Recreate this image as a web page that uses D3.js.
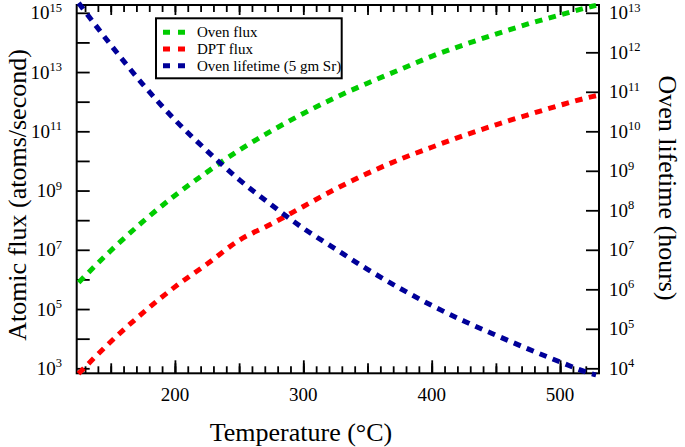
<!DOCTYPE html>
<html>
<head>
<meta charset="utf-8">
<script src="https://cdn.jsdelivr.net/npm/d3@7"></script>
<style>
  html, body { margin: 0; padding: 0; background: #fff; }
  svg { display: block; }
  text { font-family: "Liberation Serif", "Times New Roman", serif; fill: #000; }
</style>
</head>
<body>
<svg id="chart" width="685" height="447"></svg>
<script>
// ---- data ----
const temperature = [125, 150, 175, 200, 225, 250, 275, 300, 325, 350, 375, 400, 425, 450, 475, 500, 525, 528];
// atoms / second
const ovenFlux = [7.9e5, 9.3e6, 8.9e7, 6.8e8, 4.2e9, 2.3e10, 1.02e11, 4.0e11, 1.38e12, 4.2e12, 1.2e13, 3.4e13, 8.3e13, 1.91e14, 4.2e14, 8.5e14, 1.66e15, 1.78e15];
const dptFlux = [6.6e2, 7.9e3, 7.4e4, 5.6e5, 3.3e6, 2.1e7, 7.4e7, 2.9e8, 1.12e9, 3.8e9, 1.12e10, 2.9e10, 7.2e10, 1.66e11, 3.6e11, 7.6e11, 1.48e12, 1.58e12];
// hours
const ovenLifetime = [1.78e13, 1.55e12, 1.55e11, 1.95e10, 3.2e9, 6.0e8, 1.38e8, 3.5e7, 1.05e7, 3.2e6, 1.07e6, 3.9e5, 1.58e5, 6.9e4, 3.1e4, 1.45e4, 7.2e3, 6.8e3];

const seriesNames = ["Oven flux", "DPT flux", "Oven lifetime (5 gm Sr)"];
const seriesColors = ["#00cc00", "#ff0000", "#000099"];

const xTickLabels = [200, 300, 400, 500];
const leftTickExponents = [3, 5, 7, 9, 11, 13, 15];
const rightTickExponents = [4, 5, 6, 7, 8, 9, 10, 11, 12, 13];

const xAxisTitle = "Temperature (°C)";
const leftAxisTitle = "Atomic flux (atoms/second)";
const rightAxisTitle = "Oven lifetime (hours)";

// ---- layout ----
const svg = d3.select("#chart");
const frame = { left: 76.7, right: 599, top: 5, bottom: 373.3 };

const x = d3.scaleLinear().domain([123.5, 530.3]).range([frame.left, frame.right]);
const yL = d3.scaleLog().domain([1e3, 1e15]).range([368.3, 12.8]);
const yR = d3.scaleLog().domain([1e4, 1e13]).range([368.3, 12.8]);

const tickW = 1.8;
function styleAxis(g) {
  g.select(".domain").remove();
  g.selectAll(".tick line").attr("stroke", "#000").attr("stroke-width", tickW);
  g.selectAll(".tick text").remove();
}

// x minor / medium / major ticks (inward)
const t10 = d3.range(130, 530, 10);
const t50 = d3.range(150, 530, 50);
svg.append("g").attr("transform", `translate(0,${frame.bottom})`)
  .call(d3.axisBottom(x).tickValues(t10).tickSize(-7).tickFormat("")).call(styleAxis);
svg.append("g").attr("transform", `translate(0,${frame.bottom})`)
  .call(d3.axisBottom(x).tickValues(t50).tickSize(-10).tickFormat("")).call(styleAxis);
svg.append("g").attr("transform", `translate(0,${frame.bottom})`)
  .call(d3.axisBottom(x).tickValues(xTickLabels).tickSize(-13).tickFormat("")).call(styleAxis);
svg.append("g").attr("transform", `translate(0,${frame.top})`)
  .call(d3.axisTop(x).tickValues(t10).tickSize(-7).tickFormat("")).call(styleAxis);
svg.append("g").attr("transform", `translate(0,${frame.top})`)
  .call(d3.axisTop(x).tickValues(t50).tickSize(-10).tickFormat("")).call(styleAxis);

// y ticks
const leftDecades = d3.range(3, 16).map(e => Math.pow(10, e));
const rightDecades = d3.range(4, 14).map(e => Math.pow(10, e));
svg.append("g").attr("transform", `translate(${frame.left},0)`)
  .call(d3.axisLeft(yL).tickValues(leftDecades).tickSize(-13).tickFormat("")).call(styleAxis);
svg.append("g").attr("transform", `translate(${frame.right},0)`)
  .call(d3.axisRight(yR).tickValues(rightDecades).tickSize(-13).tickFormat("")).call(styleAxis);

// frame
svg.append("rect")
  .attr("x", frame.left).attr("y", frame.top)
  .attr("width", frame.right - frame.left).attr("height", frame.bottom - frame.top)
  .attr("fill", "none").attr("stroke", "#000").attr("stroke-width", 2);

// x tick labels
svg.append("g").selectAll("text").data(xTickLabels).join("text")
  .attr("x", d => x(d)).attr("y", 401)
  .attr("text-anchor", "middle").attr("font-size", 19)
  .text(d => d);

// left tick labels
const leftLab = svg.append("g").selectAll("text").data(leftTickExponents).join("text")
  .attr("x", 62).attr("y", d => yL(Math.pow(10, d)) + 6.5)
  .attr("text-anchor", "end").attr("font-size", 19);
leftLab.append("tspan").text("10");
leftLab.append("tspan").attr("dy", -7.5).attr("font-size", 12.5).text(d => d);

// right tick labels
const rightLab = svg.append("g").selectAll("text").data(rightTickExponents).join("text")
  .attr("x", 609).attr("y", d => yR(Math.pow(10, d)) + 6.5)
  .attr("text-anchor", "start").attr("font-size", 19);
rightLab.append("tspan").text("10");
rightLab.append("tspan").attr("dy", -7.5).attr("font-size", 12.5).text(d => d);

// axis titles
svg.append("text").attr("x", 301).attr("y", 441)
  .attr("text-anchor", "middle").attr("font-size", 26).text(xAxisTitle);
svg.append("text").attr("transform", "translate(26,195) rotate(-90)")
  .attr("text-anchor", "middle").attr("font-size", 26).text(leftAxisTitle);
svg.append("text").attr("transform", "translate(659,188) rotate(90)")
  .attr("text-anchor", "middle").attr("font-size", 26).text(rightAxisTitle);

// curves
const series = [
  { name: seriesNames[0], color: seriesColors[0], values: ovenFlux, y: yL },
  { name: seriesNames[1], color: seriesColors[1], values: dptFlux, y: yL },
  { name: seriesNames[2], color: seriesColors[2], values: ovenLifetime, y: yR }
];
series.forEach(s => {
  const line = d3.line()
    .x((d, i) => x(temperature[i]))
    .y(d => s.y(d))
    .curve(d3.curveMonotoneX);
  svg.append("path")
    .attr("d", line(s.values))
    .attr("fill", "none")
    .attr("stroke", s.color)
    .attr("stroke-width", 5)
    .attr("stroke-dasharray", "7.5,6.5");
});

// legend
const lg = svg.append("g");
lg.append("rect").attr("x", 156).attr("y", 18.3).attr("width", 185.7).attr("height", 60)
  .attr("fill", "#fff").attr("stroke", "#000").attr("stroke-width", 2);
series.forEach((s, i) => {
  const yy = 32.3 + i * 16.7;
  lg.append("line").attr("x1", 163).attr("x2", 186).attr("y1", yy).attr("y2", yy)
    .attr("stroke", s.color).attr("stroke-width", 5).attr("stroke-dasharray", "7,8");
  lg.append("text").attr("x", 197).attr("y", yy + 5).attr("font-size", 15).text(s.name);
});
</script>
</body>
</html>
